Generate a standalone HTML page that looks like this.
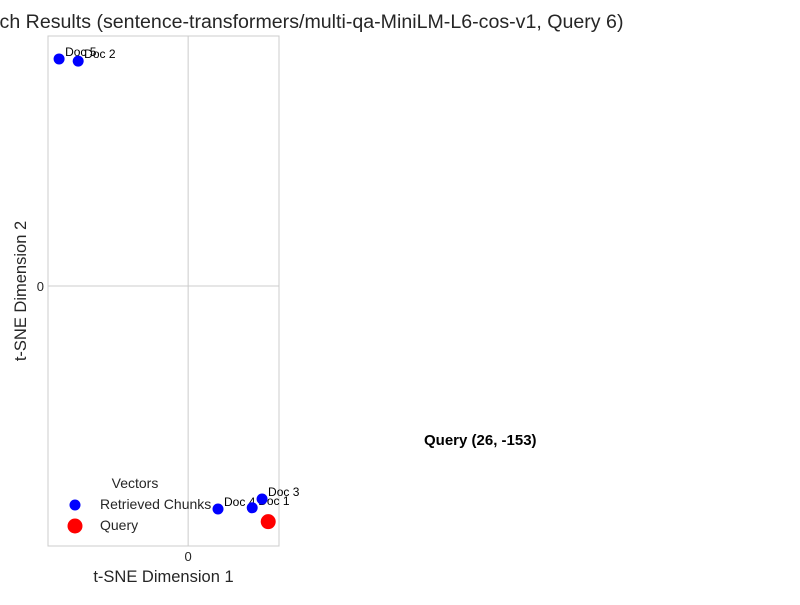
<!DOCTYPE html>
<html><head><meta charset="utf-8"><style>
body{margin:0;background:#fff;font-family:"Liberation Sans",sans-serif;}
svg text{font-family:"Liberation Sans",sans-serif;}
</style></head><body>
<svg id="chart" width="800" height="600">
<text x="311.5" y="28" text-anchor="middle" font-size="19.6" fill="#262626">ch Results (sentence-transformers/multi-qa-MiniLM-L6-cos-v1, Query 6)</text>
<g id="plot"></g>
</svg>
<script>
const docLabels=["Doc 5","Doc 2","Doc 4","Doc 1","Doc 3"];
const docX=[-41.9,-35.7,9.7,20.8,24.0];
const docY=[147.4,146.0,-144.8,-144.0,-138.3];
const queryX=[26];
const queryY=[-153];
const xTicks=[0];
const yTicks=[0];
const L=48,R=279,T=36,B=546;
const xMin=-45.5,xMax=29.5,yMin=-168.8,yMax=162.3;
function sx(v){return L+(v-xMin)/(xMax-xMin)*(R-L);}
function sy(v){return B-(v-yMin)/(yMax-yMin)*(B-T);}
const NS="http://www.w3.org/2000/svg";
const g=document.getElementById('plot');
function mk(tag,attrs,txt){const e=document.createElementNS(NS,tag);for(const k in attrs)e.setAttribute(k,attrs[k]);if(txt!==undefined)e.textContent=txt;g.appendChild(e);return e;}
xTicks.forEach(t=>{
 const l=mk('line',{x1:sx(t),x2:sx(t),y1:T,y2:B,stroke:'#cccccc','stroke-width':1});
 
 
 const tx=mk('text',{x:sx(t),y:B+15,'text-anchor':'middle','font-size':13,fill:'#262626'},String(t));
 
 
});
yTicks.forEach(t=>{
 const l=mk('line',{x1:L,x2:R,y1:sy(t),y2:sy(t),stroke:'#cccccc','stroke-width':1});
 
 
 const tx=mk('text',{x:L-4,y:sy(t)+5,'text-anchor':'end','font-size':13,fill:'#262626'},String(t));
 
 
});
const fr=mk('rect',{x:L,y:T,width:R-L,height:B-T,fill:'none',stroke:'#cccccc','stroke-width':1});


docX.forEach((x,i)=>{
 const c=mk('circle',{cx:sx(x),cy:sy(docY[i]),r:5.5,fill:'#0000ff'});
 
 
 const t=mk('text',{x:sx(x)+6,y:sy(docY[i])-3,'font-size':12,fill:'#000'},docLabels[i]);
 
 
});
queryX.forEach((x,i)=>{
 const c=mk('circle',{cx:sx(x),cy:sy(queryY[i]),r:7.5,fill:'#ff0000'});
 
 
});
const xt=mk('text',{x:163.5,y:582,'text-anchor':'middle','font-size':16.5,fill:'#262626'},'t-SNE Dimension 1');


const yt=mk('text',{x:26,y:291,'text-anchor':'middle','font-size':16.5,fill:'#262626',transform:'rotate(-90 26 291)'},'t-SNE Dimension 2');


const qa=mk('text',{x:424,y:445,'font-size':15,'font-weight':'bold',fill:'#000'},'Query (26, -153)');


const lt=mk('text',{x:135,y:488,'text-anchor':'middle','font-size':14,fill:'#262626'},'Vectors');


const lc1=mk('circle',{cx:75,cy:505,r:5.5,fill:'#0000ff'});


const l1=mk('text',{x:100,y:509,'font-size':14,fill:'#262626'},'Retrieved Chunks');


const lc2=mk('circle',{cx:75,cy:526,r:7.5,fill:'#ff0000'});


const l2=mk('text',{x:100,y:530,'font-size':14,fill:'#262626'},'Query');


</script>
</body></html>
